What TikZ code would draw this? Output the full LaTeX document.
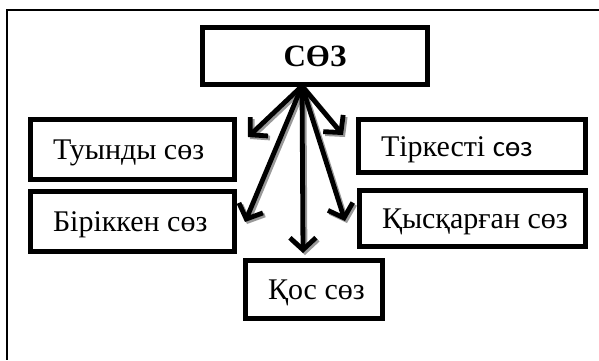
\documentclass[tikz,border=0pt]{standalone}
\usepackage{fontspec}
\setmainfont{Liberation Serif}
\newfontfamily\sansc{Carlito}
\usetikzlibrary{arrows.meta}
\newcommand\lftxt[2]{\makebox[#1][l]{#2}}
\tikzset{
  wbox/.style={draw=black, line width=5pt, rectangle, inner ysep=0pt, inner xsep=22.5pt,
    text height=20pt, text depth=0pt,
    font=\fontsize{30}{35}\selectfont, anchor=center},
  topbox/.style={draw=black, line width=5pt, rectangle, inner sep=0pt,
    text height=20pt, text depth=0pt,
    font=\fontsize{31}{36}\selectfont\bfseries},
  arr/.style={line width=4.8pt, -{Straight Barb[length=12pt, width=26pt, line width=4.8pt]}},
  arrshadow/.style={arr, draw=black!40},
  frame/.style={line width=1.3pt, draw=black}
}
\begin{document}
\begin{tikzpicture}[x=1pt, y=-1pt]
\useasboundingbox (0,0) rectangle (599,360);
\draw[frame] (599,10) -- (7,10) -- (7,360);
\node[topbox, minimum width=225pt, minimum height=57pt] (top) at (315,56) {СӨЗ};
\node[wbox, minimum width=204pt, minimum height=60pt] (tuy) at (132.5,149.5) {\lftxt{159pt}{Туынды сөз}};
\node[wbox, minimum width=204pt, minimum height=60pt] (bir) at (132.5,221) {\lftxt{159pt}{Біріккен сөз}};
\node[wbox, minimum width=227pt, minimum height=53pt] (tir) at (472,146) {\lftxt{182pt}{Тіркесті {\sansc\fontsize{29}{34}\selectfont сөз}}};
\node[wbox, minimum width=226pt, minimum height=56pt] (kys) at (472.5,218.5) {\lftxt{181pt}{Қысқарған сөз}};
\node[wbox, minimum width=137pt, minimum height=58pt] (kos) at (314,289.5) {\lftxt{92pt}{Қос сөз}};
\coordinate (o) at (302,86);
\coordinate (tTuy) at (248,137);
\coordinate (tBir) at (245,222);
\coordinate (tKos) at (303,253);
\coordinate (tTir) at (343,135);
\coordinate (tKys) at (345,221);
\begin{scope}[transform canvas={shift={(2pt,-2pt)}}]
\draw[arrshadow] (o) -- (tTuy);
\draw[arrshadow] (o) -- (tBir);
\draw[arrshadow] (o) -- (tKos);
\draw[arrshadow] (o) -- (tTir);
\draw[arrshadow] (o) -- (tKys);
\end{scope}
\draw[arr] (o) -- (tTuy);
\draw[arr] (o) -- (tBir);
\draw[arr] (o) -- (tKos);
\draw[arr] (o) -- (tTir);
\draw[arr] (o) -- (tKys);
\end{tikzpicture}
\end{document}
